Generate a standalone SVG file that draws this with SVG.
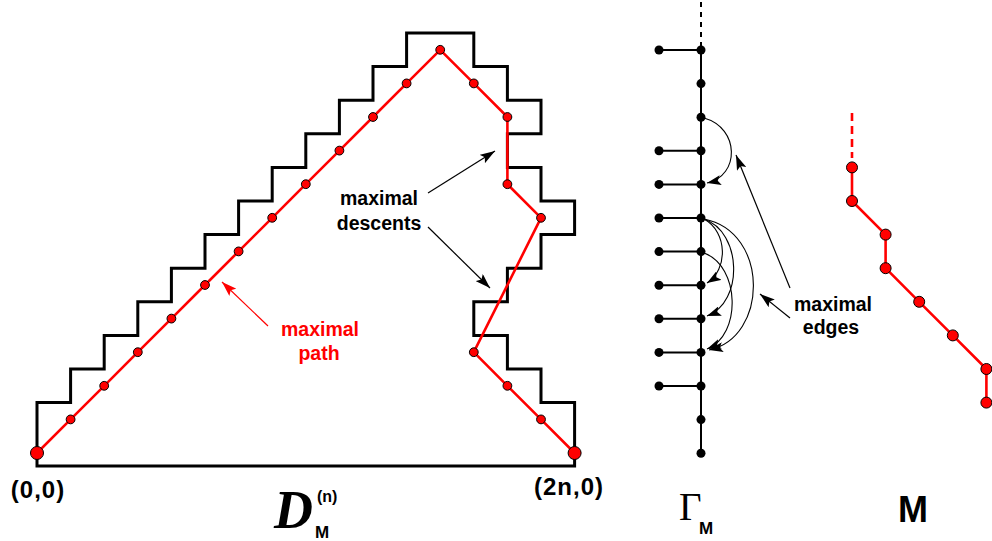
<svg xmlns="http://www.w3.org/2000/svg" width="992" height="541" viewBox="0 0 992 541">
<defs>
<marker id="ah" markerUnits="userSpaceOnUse" markerWidth="16" markerHeight="10" refX="15" refY="5" orient="auto"><path d="M0,0 L15,5 L0,10 L3,5 z" fill="#000"/></marker>
<marker id="ahr" markerUnits="userSpaceOnUse" markerWidth="16" markerHeight="10" refX="15" refY="5" orient="auto"><path d="M0,0 L15,5 L0,10 L3,5 z" fill="#f00"/></marker>
<marker id="ahs" markerUnits="userSpaceOnUse" markerWidth="15" markerHeight="10" refX="14" refY="5" orient="auto"><path d="M0,0 L14,5 L0,10 L3,5 z" fill="#000"/></marker>
</defs>
<style>
.frame{fill:none;stroke:#000;stroke-width:3;stroke-linejoin:miter}
.rp{fill:none;stroke:#f00;stroke-width:2.6;stroke-linejoin:round}
.rd{fill:#f00;stroke:#000;stroke-width:1}
.bd{fill:#000}
.bl{stroke:#000;stroke-width:2;fill:none}
.arc{stroke:#000;stroke-width:1.1;fill:none;marker-end:url(#ahs)}
.ptr{stroke:#000;stroke-width:1.2;fill:none;marker-end:url(#ah)}
.lbl{font-family:"Liberation Sans",Arial,Helvetica,sans-serif;font-weight:bold;font-size:19.5px;text-anchor:middle}
.crd{font-family:"Liberation Sans",Arial,Helvetica,sans-serif;font-weight:bold;font-size:24px;letter-spacing:1px;text-anchor:middle}
</style>

<g id="dyck-region">
<path class="frame" d="M37,466 V402.6 H70.6 V369 H104.2 V335.4 H137.8 V301.8 H171.4 V268.2 H205 V234.6 H238.6 V201 H272.2 V167.4 H305.8 V133.8 H339.4 V100.2 H373 V66.6 H406.6 V33 H473.8 V66.6 H507.4 V100.2 H541 V133.8 H507.4 V167.4 H541 V201 H574.6 V234.6 H541 V268.2 H507.4 V301.8 H473.8 V335.4 H507.4 V369 H541 V402.6 H574.6 V466 Z"/>
</g>

<g id="maximal-path">
<polyline class="rp" points="37,453 70.6,419.4 104.2,385.8 137.8,352.2 171.4,318.6 205,285 238.6,251.4 272.2,217.8 305.8,184.2 339.4,150.6 373,117 406.6,83.4 440.2,49.8 473.8,83.4 507.4,117 507.4,184.2 541,217.8 473.8,352.2 507.4,385.8 541,419.4 574.6,453"/>
<circle class="rd" cx="37" cy="453" r="6.5"/>
<circle class="rd" cx="70.6" cy="419.4" r="4.4"/>
<circle class="rd" cx="104.2" cy="385.8" r="4.4"/>
<circle class="rd" cx="137.8" cy="352.2" r="4.4"/>
<circle class="rd" cx="171.4" cy="318.6" r="4.4"/>
<circle class="rd" cx="205" cy="285" r="4.4"/>
<circle class="rd" cx="238.6" cy="251.4" r="4.4"/>
<circle class="rd" cx="272.2" cy="217.8" r="4.4"/>
<circle class="rd" cx="305.8" cy="184.2" r="4.4"/>
<circle class="rd" cx="339.4" cy="150.6" r="4.4"/>
<circle class="rd" cx="373" cy="117" r="4.4"/>
<circle class="rd" cx="406.6" cy="83.4" r="4.4"/>
<circle class="rd" cx="440.2" cy="49.8" r="4.4"/>
<circle class="rd" cx="473.8" cy="83.4" r="4.4"/>
<circle class="rd" cx="507.4" cy="117" r="4.4"/>
<circle class="rd" cx="507.4" cy="184.2" r="4.4"/>
<circle class="rd" cx="541" cy="217.8" r="4.4"/>
<circle class="rd" cx="473.8" cy="352.2" r="4.4"/>
<circle class="rd" cx="507.4" cy="385.8" r="4.4"/>
<circle class="rd" cx="541" cy="419.4" r="4.4"/>
<circle class="rd" cx="574.6" cy="453" r="6.5"/>
</g>

<g id="gamma">
<line class="bl" x1="701" y1="2" x2="701" y2="46" stroke-dasharray="5,5"/>
<line class="bl" x1="701" y1="50" x2="701" y2="453.2"/>
<g class="bl">
<line x1="659" y1="50" x2="701" y2="50"/>
<line x1="659" y1="150.8" x2="701" y2="150.8"/>
<line x1="659" y1="184.4" x2="701" y2="184.4"/>
<line x1="659" y1="218" x2="701" y2="218"/>
<line x1="659" y1="251.6" x2="701" y2="251.6"/>
<line x1="659" y1="285.2" x2="701" y2="285.2"/>
<line x1="659" y1="318.8" x2="701" y2="318.8"/>
<line x1="659" y1="352.4" x2="701" y2="352.4"/>
<line x1="659" y1="386" x2="701" y2="386"/>
</g>
<g class="bd">
<circle cx="701" cy="50" r="4.5"/><circle cx="701" cy="83.6" r="4.5"/><circle cx="701" cy="117.2" r="4.5"/><circle cx="701" cy="150.8" r="4.5"/><circle cx="701" cy="184.4" r="4.5"/><circle cx="701" cy="218" r="4.5"/><circle cx="701" cy="251.6" r="4.5"/><circle cx="701" cy="285.2" r="4.5"/><circle cx="701" cy="318.8" r="4.5"/><circle cx="701" cy="352.4" r="4.5"/><circle cx="701" cy="386" r="4.5"/><circle cx="701" cy="419.6" r="4.5"/><circle cx="701" cy="453.2" r="4.5"/>
<circle cx="659" cy="50" r="4.5"/><circle cx="659" cy="150.8" r="4.5"/><circle cx="659" cy="184.4" r="4.5"/><circle cx="659" cy="218" r="4.5"/><circle cx="659" cy="251.6" r="4.5"/><circle cx="659" cy="285.2" r="4.5"/><circle cx="659" cy="318.8" r="4.5"/><circle cx="659" cy="352.4" r="4.5"/><circle cx="659" cy="386" r="4.5"/>
</g>
</g>

<g id="m-path">
<line x1="852" y1="113" x2="852" y2="158" stroke="#f00" stroke-width="2.6" stroke-dasharray="8,5"/>
<polyline class="rp" points="852,167.4 852,201 885.6,234.6 885.6,268.2 919.2,301.8 952.8,335.4 986.4,369 986.4,402.6"/>
<circle class="rd" cx="852" cy="167.4" r="5.5"/>
<circle class="rd" cx="852" cy="201" r="5.5"/>
<circle class="rd" cx="885.6" cy="234.6" r="5.5"/>
<circle class="rd" cx="885.6" cy="268.2" r="5.5"/>
<circle class="rd" cx="919.2" cy="301.8" r="5.5"/>
<circle class="rd" cx="952.8" cy="335.4" r="5.5"/>
<circle class="rd" cx="986.4" cy="369" r="5.5"/>
<circle class="rd" cx="986.4" cy="402.6" r="5.5"/>
</g>

<g id="connectors">
<path class="arc" d="M704,118 C740,128 740,176 707,183"/>
<path class="arc" d="M704,219 C728,232 728,270 707,283"/>
<path class="arc" d="M704,219 C742,232 744,302 707,316"/>
<path class="arc" d="M704,219 C770,232 768,338 709,350"/>
<path class="arc" d="M704,253 C740,266 742,335 707,349"/>
<line class="ptr" x1="428" y1="193" x2="495" y2="151"/>
<line class="ptr" x1="428" y1="227" x2="490" y2="288"/>
<line x1="268" y1="326" x2="222" y2="282" stroke="#f00" stroke-width="1.2" marker-end="url(#ahr)"/>
<line class="ptr" x1="790" y1="288" x2="736" y2="155"/>
<line class="ptr" x1="790" y1="318" x2="760" y2="294"/>
</g>

<g id="labels">
<text class="lbl" x="379" y="205">maximal</text>
<text class="lbl" x="379" y="230">descents</text>
<text class="lbl" x="320" y="336" fill="#f00">maximal</text>
<text class="lbl" x="319" y="360" fill="#f00">path</text>
<text class="lbl" x="833" y="311">maximal</text>
<text class="lbl" x="831" y="334">edges</text>
<text class="crd" x="38" y="498">(0,0)</text>
<text class="crd" x="569" y="495">(2n,0)</text>
<text x="274" y="528" font-family="'Liberation Serif','Times New Roman',serif" font-weight="bold" font-style="italic" font-size="54">D</text>
<text x="317" y="502" font-family="'Liberation Sans',Arial,sans-serif" font-weight="bold" font-size="16">(n)</text>
<text x="315" y="538" font-family="'Liberation Sans',Arial,sans-serif" font-weight="bold" font-size="17">M</text>
<text x="679" y="520" font-family="'Liberation Serif','Times New Roman',serif" font-size="39">Γ</text>
<text x="699" y="534" font-family="'Liberation Sans',Arial,sans-serif" font-weight="bold" font-size="17">M</text>
<text x="913" y="522" font-family="'Liberation Sans',Arial,sans-serif" font-weight="bold" font-size="36" text-anchor="middle">M</text>
</g>
</svg>
